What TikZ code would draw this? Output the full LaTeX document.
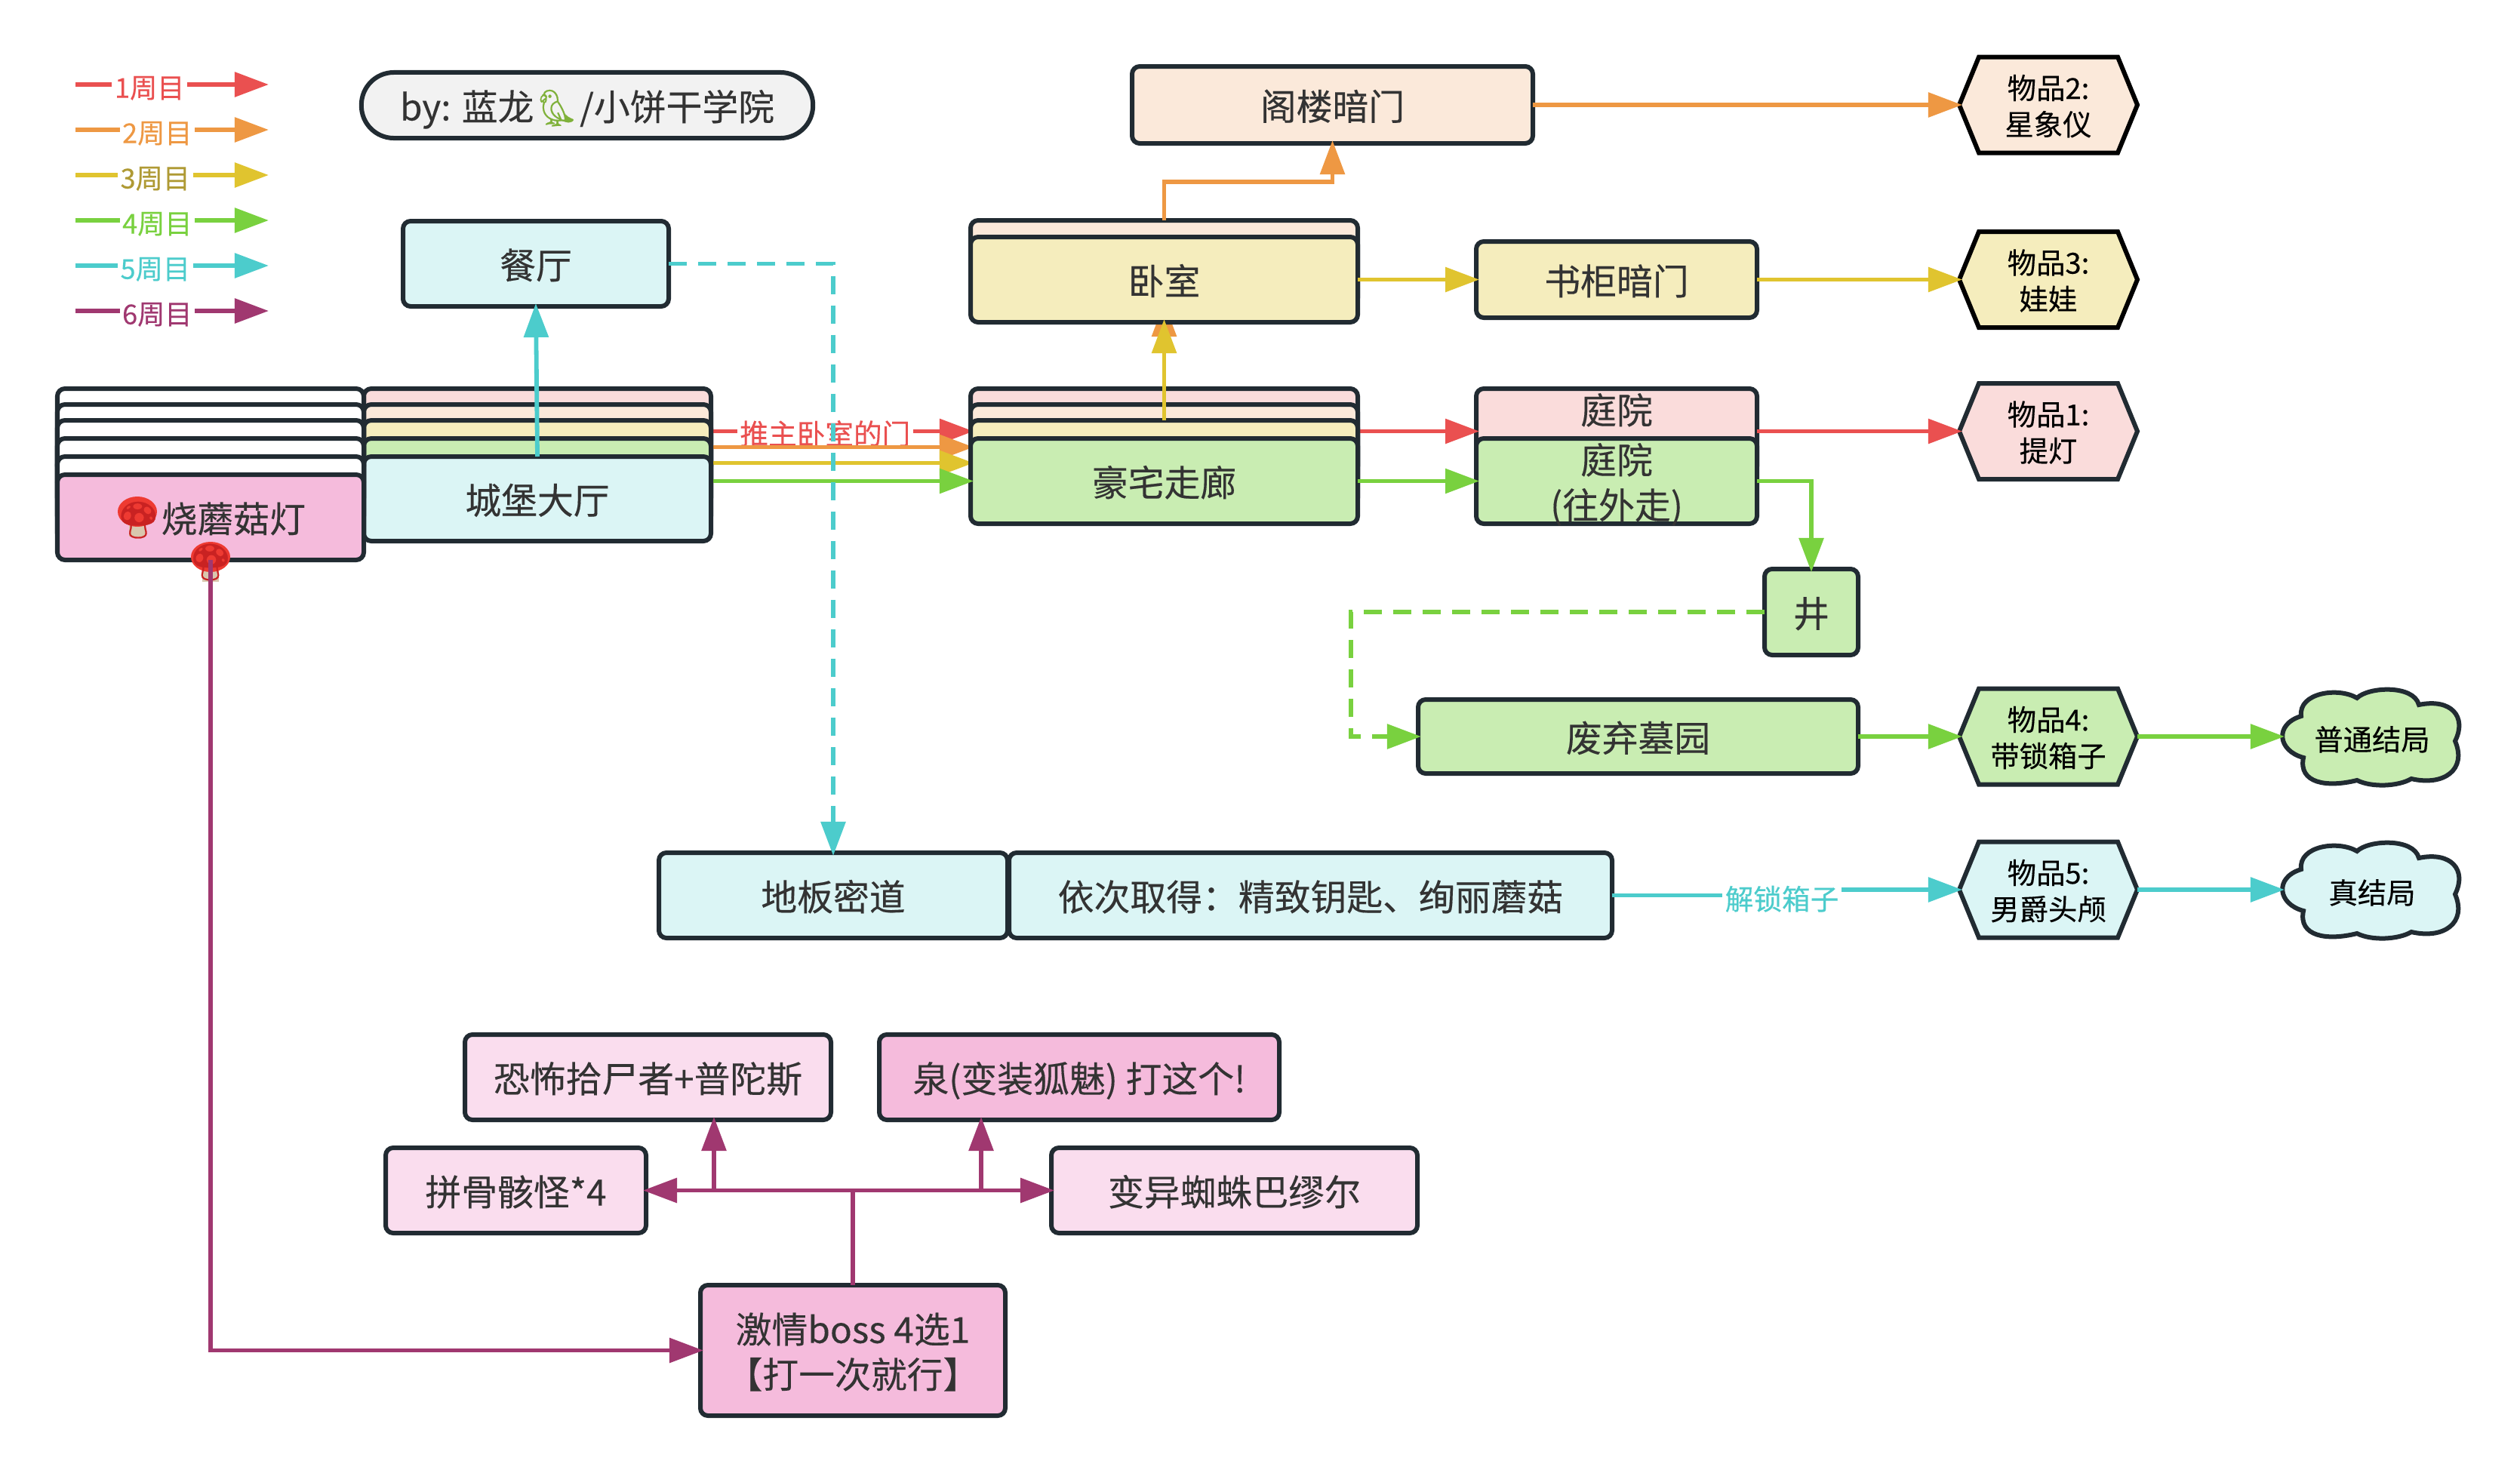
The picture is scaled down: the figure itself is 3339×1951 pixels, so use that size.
\documentclass[tikz,border=0pt]{standalone}
\usepackage{fontspec}
\setmainfont[FakeBold=0.25]{Noto Sans CJK SC}
\newfontfamily\emojifont[FakeBold=0.5]{Noto Emoji}
\usetikzlibrary{arrows.meta}
\definecolor{dk}{HTML}{212B32}
\definecolor{tx}{HTML}{333333}
\definecolor{cP}{HTML}{FADCDB}
\definecolor{cO}{HTML}{FBE9DA}
\definecolor{cY}{HTML}{F5EDBD}
\definecolor{cG}{HTML}{C9EDB2}
\definecolor{cC}{HTML}{DBF5F5}
\definecolor{cM}{HTML}{F5BBDC}
\definecolor{cL}{HTML}{FADDEE}
\definecolor{eR}{HTML}{EA5050}
\definecolor{eO}{HTML}{EE9843}
\definecolor{eY}{HTML}{E0C42F}
\definecolor{eG}{HTML}{79D13F}
\definecolor{eC}{HTML}{4CCCCC}
\definecolor{eM}{HTML}{A03870}
\definecolor{tY}{HTML}{AF9A34}
\definecolor{parrot}{HTML}{7FB13A}
\definecolor{shroom}{HTML}{C92222}
\definecolor{capred}{HTML}{EE3A32}
\definecolor{stem}{HTML}{D9C7AE}
\tikzset{
  box/.style={rectangle,draw=dk,line width=0.06cm,rounded corners=0.1cm,inner sep=0pt,outer sep=0pt,align=center,text=tx,font=\fontsize{13.6pt}{17pt}\selectfont,text height=11.4pt,text depth=0pt},
  twolines/.style={text height=28.4pt,text depth=0pt},
  hexbody/.style={line width=0.06cm,line join=miter},
  hextext/.style={rectangle,inner sep=0pt,outer sep=0pt,align=center,text=black,minimum width=2.36cm,minimum height=1.27cm,font=\fontsize{10.9pt}{13.7pt}\selectfont,text height=22.9pt,text depth=0pt},
  cloudtext/.style={rectangle,inner sep=0pt,outer sep=0pt,text=black,minimum width=2.4cm,minimum height=1.33cm,font=\fontsize{10.9pt}{13.7pt}\selectfont,text height=10.5pt,text depth=0pt},
  edge/.style={line width=0.058cm,-{Triangle[length=0.45cm,width=0.32cm]},shorten >=-0.04cm},
  dashedge/.style={edge,dash pattern=on 0.24cm off 0.15cm},
  leglabel/.style={fill=white,inner sep=1pt,font=\fontsize{10.3pt}{12pt}\selectfont,text height=10pt,text depth=0pt},
  edgelabel/.style={fill=white,inner sep=1pt,font=\fontsize{10.7pt}{12pt}\selectfont,text height=10pt,text depth=0pt},
  emojicap/.style={fill=capred,draw=none},
  emojistem/.style={fill=stem,draw=none},
}
\newcommand{\bx}[7]{\node[box,#6,minimum width={(#4-#2)*0.01cm},minimum height={(#5-#3)*0.01cm}] (#1) at ({(#2+#4)/2},{(#3+#5)/2}) {#7};}
\newcommand{\hexitem}[5]{%
  \draw[hexbody,draw=#4,fill=#3] (2596,#2) -- (2622,#2-63.5) -- (2806,#2-63.5) -- (2832,#2) -- (2806,#2+63.5) -- (2622,#2+63.5) -- cycle;
  \node[hextext] (#1) at (2714,#2) {#5};}
\newcommand{\cloudshape}[5]{%
  \draw[hexbody,draw=dk,fill=#3,shift={(3023,#2)}] (26,39) .. controls (22,8) and (75,0) .. (100,15)
    .. controls (115,0) and (175,-3) .. (182,24)
    .. controls (225,15) and (246,40) .. (230,72)
    .. controls (246,110) and (215,132) .. (172,122)
    .. controls (155,132) and (120,134) .. (100,124)
    .. controls (60,134) and (22,128) .. (29,94)
    .. controls (-5,85) and (-10,50) .. (26,39) -- cycle;
  \node[cloudtext] (#1) at (3143,#2+66) {#5};}
\newcommand{\mush}{\textcolor{shroom}{\emojifont 🍄}}
\newcommand{\mushbase}[2]{%
  \fill[emojistem] (#1-11,#2+2) rectangle (#1+11,#2+26);
  \fill[emojicap] (#1,#2-7) ellipse [x radius=26,y radius=20];}
\begin{document}
\begin{tikzpicture}[x=0.01cm,y=-0.01cm]
\path[use as bounding box,fill=white] (0,0) rectangle (3339,1951);

% legend
\coordinate (la1) at (100,112); \coordinate (lb1) at (352,112);
\coordinate (la2) at (100,172); \coordinate (lb2) at (352,172);
\coordinate (la3) at (100,232); \coordinate (lb3) at (352,232);
\coordinate (la4) at (100,292); \coordinate (lb4) at (352,292);
\coordinate (la5) at (100,352); \coordinate (lb5) at (352,352);
\coordinate (la6) at (100,412); \coordinate (lb6) at (352,412);
\draw[edge,eR] (la1) -- node[leglabel,pos=0.39,text=eR] (leg1) {1周目} (lb1);
\draw[edge,eO] (la2) -- node[leglabel,pos=0.43,text=eO] (leg2) {2周目} (lb2);
\draw[edge,eY] (la3) -- node[leglabel,pos=0.42,text=tY] (leg3) {3周目} (lb3);
\draw[edge,eG] (la4) -- node[leglabel,pos=0.43,text=eG] (leg4) {4周目} (lb4);
\draw[edge,eC] (la5) -- node[leglabel,pos=0.42,text=eC] (leg5) {5周目} (lb5);
\draw[edge,eM] (la6) -- node[leglabel,pos=0.43,text=eM] (leg6) {6周目} (lb6);

% credit
\node[box,fill=black!5,rounded corners=0.43cm,minimum width=5.98cm,minimum height=0.87cm] (credit) at (778,139.5) {by: 蓝龙\textcolor{parrot}{\emojifont 🦜}/小饼干学院};

% week 1
\bx{hallP}{482}{515}{942}{628}{fill=cP}{}
\bx{corP}{1286}{515}{1799}{628}{fill=cP}{}
\bx{courtP}{1956}{515}{2328}{628}{fill=cP,twolines}{庭院\\~}
\hexitem{item1}{571.5}{cP}{dk}{物品1:\\提灯}
\draw[edge,eR] (hallP.east) -- node[edgelabel,pos=0.44,text=eR] (push) {推主卧室的门} (corP.west);
\draw[edge,eR] (corP.east) -- (courtP.west);
\draw[edge,eR] (courtP.east) -- (item1.west);

% week 2
\bx{hallO}{482}{536}{942}{649}{fill=cO}{}
\bx{corO}{1286}{536}{1799}{649}{fill=cO}{}
\bx{bedO}{1286}{292}{1799}{405}{fill=cO}{}
\bx{attic}{1500}{88}{2031}{190}{fill=cO}{阁楼暗门}
\hexitem{item2}{139}{cO}{black}{物品2:\\星象仪}
\coordinate (atkink) at (1654,241);
\draw[edge,eO] (hallO.east) -- (corO.west);
\draw[edge,eO] (corO.north) -- (bedO.south);
\draw[edge,eO] (bedO.north) |- (atkink) -| (attic.south);
\draw[edge,eO] (attic.east) -- (item2.west);

% week 3
\bx{hallY}{482}{557}{942}{670}{fill=cY}{}
\bx{corY}{1286}{557}{1799}{670}{fill=cY}{}
\bx{bedY}{1286}{314}{1799}{427}{fill=cY}{卧室}
\bx{shelf}{1956}{320}{2328}{421}{fill=cY}{书柜暗门}
\hexitem{item3}{370.5}{cY}{black}{物品3:\\娃娃}
\draw[edge,eY] (hallY.east) -- (corY.west);
\draw[edge,eY] (corY.north) -- (bedY.south);
\draw[edge,eY] (bedY.east) -- (shelf.west);
\draw[edge,eY] (shelf.east) -- (item3.west);

% week 4
\bx{hallG}{482}{581}{942}{694}{fill=cG}{}
\bx{corG}{1286}{581}{1799}{694}{fill=cG}{豪宅走廊}
\bx{courtG}{1956}{581}{2328}{694}{fill=cG,twolines}{庭院\\(往外走)}
\bx{well}{2338}{754}{2462}{868}{fill=cG}{井}
\bx{grave}{1879}{927}{2462}{1025}{fill=cG}{废弃墓园}
\hexitem{item4}{976}{cG}{dk}{物品4:\\带锁箱子}
\cloudshape{endA}{910}{cG}{dk}{普通结局}
\coordinate (wellkink) at (1790,894);
\draw[edge,eG] (hallG.east) -- (corG.west);
\draw[edge,eG] (corG.east) -- (courtG.west);
\draw[edge,eG] (courtG.east) -| (well.north);
\draw[dashedge,eG] (well.west) -| (wellkink) |- (grave.west);
\draw[edge,eG] (grave.east) -- (item4.west);
\draw[edge,eG] (item4.east) -- (endA.west);

% week 5
\bx{hallC}{482}{605}{942}{717}{fill=cC}{城堡大厅}
\bx{dining}{534}{293}{886}{406}{fill=cC}{餐厅}
\bx{floor}{873}{1130}{1335}{1243}{fill=cC}{地板密道}
\bx{quest}{1337}{1130}{2136}{1243}{fill=cC}{依次取得：精致钥匙、绚丽蘑菇}
\hexitem{item5}{1179}{cC}{dk}{物品5:\\男爵头颅}
\cloudshape{endB}{1113}{cC}{dk}{真结局}
\coordinate (qkink) at (2361,1179);
\draw[edge,eC] (hallC.north) -- (dining.south);
\draw[dashedge,eC] (dining.east) -| (floor.north);
\draw[edge,eC] (quest.east) -| (qkink) -- node[edgelabel,pos=0,text=eC,yshift=-0.09cm] (unlock) {解锁箱子} (item5.west);
\draw[edge,eC] (item5.east) -- (endB.west);

% week 6
\bx{lampA}{76}{515}{482}{628}{fill=white}{}
\bx{lampB}{76}{536}{482}{649}{fill=white}{}
\bx{lampC}{76}{557}{482}{670}{fill=white}{}
\bx{lampD}{76}{581}{482}{694}{fill=white}{}
\bx{lampE}{76}{605}{482}{717}{fill=white}{}
\bx{lampbox}{76}{629}{482}{742}{fill=cM}{}
\mushbase{182}{685}
\node[box,draw=none,fill=none,minimum width=4.06cm,minimum height=1.13cm] (lamp) at (279,685.5) {\mush 烧蘑菇灯};
\mushbase{279}{745}
\node[inner sep=0pt,outer sep=0pt,font=\fontsize{13.6pt}{17pt}\selectfont] (lampicon) at (279,745) {\mush};
\bx{scav}{616}{1371}{1101}{1484}{fill=cL}{恐怖拾尸者+普陀斯}
\bx{fox}{1165}{1371}{1695}{1484}{fill=cM}{泉(变装狐魅) 打这个!}
\bx{skel}{511}{1521}{856}{1634}{fill=cL}{拼骨骸怪*4}
\bx{spider}{1393}{1521}{1878}{1634}{fill=cL}{变异蜘蛛巴缪尔}
\bx{boss}{928}{1703}{1332}{1876}{fill=cM,twolines}{激情boss 4选1\\【打一次就行】}
\coordinate (busA) at (946,1577.5);
\coordinate (busB) at (1300,1577.5);
\draw[edge,eM] (lampbox.south) |- (boss.west);
\draw[edge,eM] (boss.north) |- (skel.east);
\draw[edge,eM] (boss.north) |- (spider.west);
\draw[edge,eM] (busA) -- (busA |- scav.south);
\draw[edge,eM] (busB) -- (busB |- fox.south);
\end{tikzpicture}
\end{document}
